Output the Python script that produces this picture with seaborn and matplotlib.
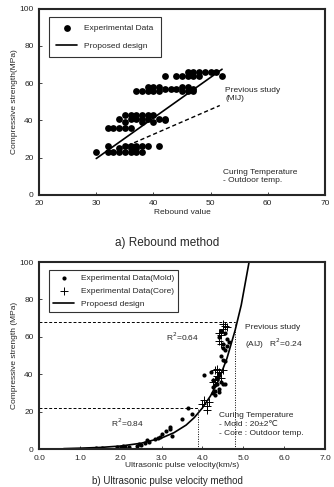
import numpy as np
import matplotlib.pyplot as plt
import pandas as pd
import seaborn as sns

# a) rebound method: experimental data (rebound value, strength MPa)
reb_x = [30, 32, 33, 34, 35, 36, 37, 38,
         32, 35, 36, 37, 38, 39, 41, 34, 36, 37,
         32, 33, 34, 35, 36,
         34, 35, 36, 37, 38, 39, 40, 36, 37, 38, 39, 40, 41, 42, 42, 35, 38,
         37, 38, 39, 40, 41, 45, 46, 47,
         39, 40, 41, 42, 43, 44, 45, 46, 47,
         42, 44, 45, 46, 47, 48, 52,
         46, 47, 48, 49, 50, 51]
reb_y = [23, 23, 23, 23, 23, 23, 23, 23,
         26, 26, 26, 26, 26, 26, 26, 25, 25, 25,
         36, 36, 36, 36, 36,
         41, 43, 43, 43, 43, 43, 43, 41, 41, 41, 41, 39, 41, 40, 41, 39, 39,
         56, 56, 56, 56, 56, 56, 56, 56,
         58, 58, 58, 57, 57, 57, 58, 58, 57,
         64, 64, 64, 64, 64, 64, 64,
         66, 66, 66, 66, 66, 66]
design_x = [30, 52]
design_y = [19.5, 67.5]
mij_x = [35.5, 51.6]
mij_y = [26.5, 48]

# b) ultrasonic pulse velocity: mold and core data (km/s, MPa)
mold_x = [1.4, 1.55, 1.9, 2.0, 2.05, 2.1, 2.2, 2.4, 2.45, 2.5, 2.6, 2.65, 2.7,
          2.85, 2.9, 2.95, 3.0, 3.1, 3.2, 3.25, 3.2, 3.5, 3.65, 3.75,
          4.05, 4.2, 4.25, 4.25, 4.3, 4.3, 4.35, 4.4, 4.35, 4.4, 4.45, 4.5,
          4.55, 4.3, 4.25, 4.4, 4.45, 4.5, 4.55, 4.55, 4.6, 4.65, 4.6, 4.5,
          4.45, 4.55, 4.5, 4.4]
mold_y = [0.3, 0.5, 1.0, 1.2, 1.5, 1.0, 1.3, 1.5, 2.5, 2.0, 3.0, 5.0, 4.0,
          5.5, 6.0, 6.5, 8.0, 9.5, 10.5, 7.0, 12.0, 16.0, 22.0, 18.5,
          39.5, 41, 37, 33, 31, 29, 35, 32, 38, 40, 36, 34.5,
          35, 34, 30, 30.5, 50, 47.5, 47, 53, 55, 57, 59, 54,
          63, 62, 56, 60]
core_x = [4.05, 4.1, 4.12, 4.15, 4.0, 4.3, 4.35, 4.4, 4.45, 4.5, 4.35, 4.4,
          4.45, 4.5, 4.5, 4.55, 4.45, 4.6, 4.4, 4.3, 4.25]
core_y = [26, 23, 21, 25, 24, 42, 43, 41, 38, 42, 39, 58,
          61, 64, 67, 66, 56, 65, 62, 37, 36]
curve_x = [0.6, 1.0, 1.5, 2.0, 2.5, 3.0, 3.3, 3.6, 3.8, 4.0, 4.2, 4.4, 4.6,
           4.8, 4.95, 5.05, 5.15]
curve_y = [0.2, 0.45, 0.85, 1.6, 3.1, 5.9, 8.7, 12.8, 16.8, 22, 28.5, 37,
           48.5, 63.5, 77, 89, 101]

sns.set_style('ticks')
plt.rcParams['font.family'] = ['Liberation Sans', 'DejaVu Sans']
plt.rcParams['axes.linewidth'] = 1.5

fig = plt.figure(figsize=(3.34, 4.87), dpi=100)
ax1 = fig.add_axes([0.117, 0.600, 0.856, 0.382])
ax2 = fig.add_axes([0.117, 0.078, 0.856, 0.384])

fs = 6
# ---- top panel
sns.scatterplot(x=reb_x, y=reb_y, ax=ax1, color='black', s=24,
                edgecolor='black', linewidth=0, label='Experimental Data')
sns.lineplot(x=design_x, y=design_y, ax=ax1, color='black', lw=1.2,
             label='Proposed design')
sns.lineplot(x=mij_x, y=mij_y, ax=ax1, color='black', lw=1.0,
             linestyle=(0, (3, 2)), legend=False)
ax1.set_xlim(20, 70)
ax1.set_ylim(0, 100)
ax1.set_xticks(range(20, 71, 10))
ax1.set_yticks(range(0, 101, 20))
ax1.set_xlabel('Rebound value', fontsize=fs, labelpad=1)
ax1.set_ylabel('Compressive strength(MPa)', fontsize=fs, labelpad=1)
ax1.text(52.6, 58, 'Previous study\n(MIJ)', fontsize=fs, va='top',
         linespacing=1.3)
ax1.text(52.2, 14, 'Curing Temperature\n- Outdoor temp.', fontsize=fs,
         va='top', linespacing=1.3)
leg1 = ax1.legend(loc='upper left', fontsize=fs, frameon=True, fancybox=False,
                  edgecolor='black', borderpad=0.9, labelspacing=1.2,
                  handlelength=2.5, bbox_to_anchor=(0.02, 0.98))
leg1.get_frame().set_linewidth(0.8)

# ---- bottom panel
ax2.plot([0, 3.9], [22, 22], color='black', lw=0.7, ls=(0, (3, 2)))
ax2.plot([3.9, 3.9], [0, 22], color='black', lw=0.7, ls=(0, (1, 1.5)))
ax2.plot([0, 4.8], [67.7, 67.7], color='black', lw=0.7, ls=(0, (3, 2)))
ax2.plot([4.8, 4.8], [0, 67.7], color='black', lw=0.7, ls=(0, (1, 1.5)))
sns.scatterplot(x=mold_x, y=mold_y, ax=ax2, color='black', s=9,
                linewidth=0, label='Experimental Data(Mold)')
sns.scatterplot(x=core_x, y=core_y, ax=ax2, color='black', s=30,
                marker='+', linewidth=0.7, label='Experimental Data(Core)')
sns.lineplot(x=curve_x, y=curve_y, ax=ax2, color='black', lw=1.2,
             label='Propoesd design')
ax2.set_xlim(0, 7)
ax2.set_ylim(0, 100)
ax2.set_xticks(np.arange(0, 7.1, 1.0))
ax2.set_xticklabels([f'{v:.1f}' for v in np.arange(0, 7.1, 1.0)])
ax2.set_yticks(range(0, 101, 20))
ax2.set_xlabel('Ultrasonic pulse velocity(km/s)', fontsize=fs, labelpad=0)
ax2.set_ylabel('Compressive strength (MPa)', fontsize=fs, labelpad=1)
ax2.text(3.1, 60, 'R$^2$=0.64', fontsize=fs, va='center')
ax2.text(1.75, 14, 'R$^2$=0.84', fontsize=fs, va='center')
ax2.text(5.05, 59.5, 'Previous study\n(AIJ)   R$^2$=0.24', fontsize=fs,
         va='center', linespacing=1.5)
ax2.text(4.4, 13, 'Curing Temperature\n- Mold : 20±2℃\n- Core : Outdoor temp.',
         fontsize=fs, va='center', linespacing=1.4)
leg2 = ax2.legend(loc='upper left', fontsize=fs, frameon=True, fancybox=False,
                  edgecolor='black', borderpad=0.5, labelspacing=0.6,
                  handlelength=2.5, bbox_to_anchor=(0.02, 0.98))
leg2.get_frame().set_linewidth(0.8)

for ax in (ax1, ax2):
    ax.tick_params(direction='in', length=2, width=0.6, labelsize=fs, pad=4)
    for sp in ax.spines.values():
        sp.set_visible(True)
        sp.set_linewidth(1.5)

fig.text(0.5, 0.502, 'a) Rebound method', ha='center', va='center',
         fontsize=8.5, family=['Liberation Sans Narrow', 'Liberation Sans'])
fig.text(0.5, 0.012, 'b) Ultrasonic pulse velocity method', ha='center',
         va='center', fontsize=7,
         family=['Liberation Sans Narrow', 'Liberation Sans'])

fig.savefig('out.png', dpi=100)
